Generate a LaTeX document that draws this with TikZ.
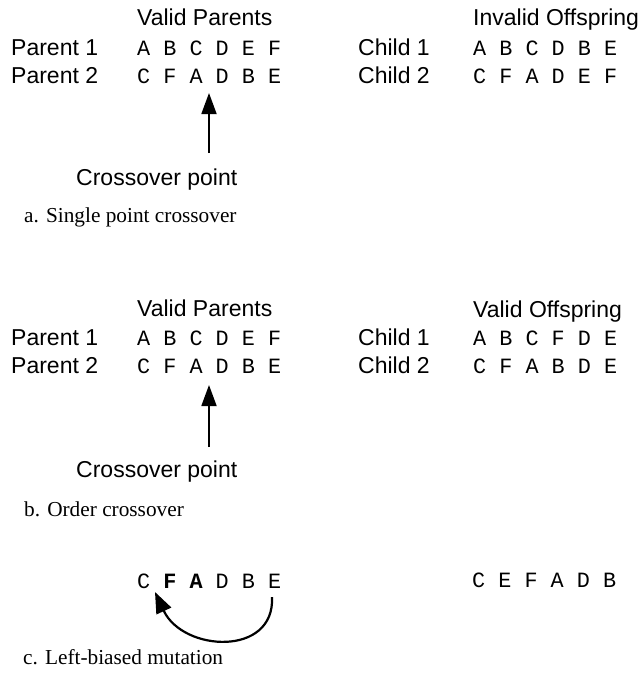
\documentclass[tikz,border=0pt]{standalone}
\usepackage{fontspec}
\setmainfont{Liberation Serif}
\setsansfont{Liberation Sans}
\setmonofont{Liberation Mono}
\usetikzlibrary{positioning,arrows.meta,calc}

\begin{document}
\begin{tikzpicture}[x=1pt, y=-1pt,
  lbl/.style={font=\sffamily\fontsize{23}{27}\selectfont, anchor=base west, inner sep=0pt},
  gene/.style={font=\ttfamily\fontsize{21.8}{26}\selectfont, anchor=base west, inner sep=0pt},
  capt/.style={font=\rmfamily\fontsize{21.3}{25}\selectfont, anchor=base west, inner sep=0pt},
  arr/.style={-{Triangle[length=21pt, width=15pt]}, line width=1.8pt},
  swap/.style={-{Triangle[length=21pt, width=16pt]}, line width=2.2pt}]
\useasboundingbox (0,0) rectangle (643,681);
% a. single point crossover
\node[lbl] (hpa) at (137,25) {Valid Parents};
\node[lbl] (hoa) at (473,25) {Invalid Offspring};
\node[lbl] (pa1) at (11,55) {Parent 1};
\node[lbl] (pa2) at (11,83) {Parent 2};
\node[gene] (ga1) at (137,55) {A B C D E F};
\node[gene] (ga2) at (137,83) {C F A D B E};
\node[lbl] (ca1) at (358,55) {Child 1};
\node[lbl] (ca2) at (358,83) {Child 2};
\node[gene] (ka1) at (473,55) {A B C D B E};
\node[gene] (ka2) at (473,83) {C F A D E F};
\node[lbl] (xpa) at (76,185) {Crossover point};
\node[capt] (cpa) at (24,222) {a. Single point crossover};
\coordinate (tipa) at (209,93);
\coordinate (taila) at (209,153);
\draw[arr] (taila) -- (tipa);
% b. order crossover
\node[lbl] (hpb) at (137,316) {Valid Parents};
\node[lbl] (hob) at (473,317) {Valid Offspring};
\node[lbl] (pb1) at (11,345) {Parent 1};
\node[lbl] (pb2) at (11,373) {Parent 2};
\node[gene] (gb1) at (137,345) {A B C D E F};
\node[gene] (gb2) at (137,373) {C F A D B E};
\node[lbl] (cb1) at (358,345) {Child 1};
\node[lbl] (cb2) at (358,373) {Child 2};
\node[gene] (kb1) at (473,345) {A B C F D E};
\node[gene] (kb2) at (473,373) {C F A B D E};
\node[lbl] (xpb) at (76,477) {Crossover point};
\node[capt] (cpb) at (24,516) {b. Order crossover};
\coordinate (tipb) at (209,385);
\coordinate (tailb) at (209,447);
\draw[arr] (tailb) -- (tipb);
% c. left-biased mutation
\node[gene] (gc) at (137,588) {C \textbf{F} \textbf{A} D B E};
\node[gene] (kc) at (472,587) {C E F A D B};
\node[capt] (cpc) at (23,664) {c. Left-biased mutation};
\coordinate (from) at (272,597);
\coordinate (to) at (155,592);
\draw[swap] (from) .. controls (275,657) and (183,652) .. (to);
\end{tikzpicture}
\end{document}
